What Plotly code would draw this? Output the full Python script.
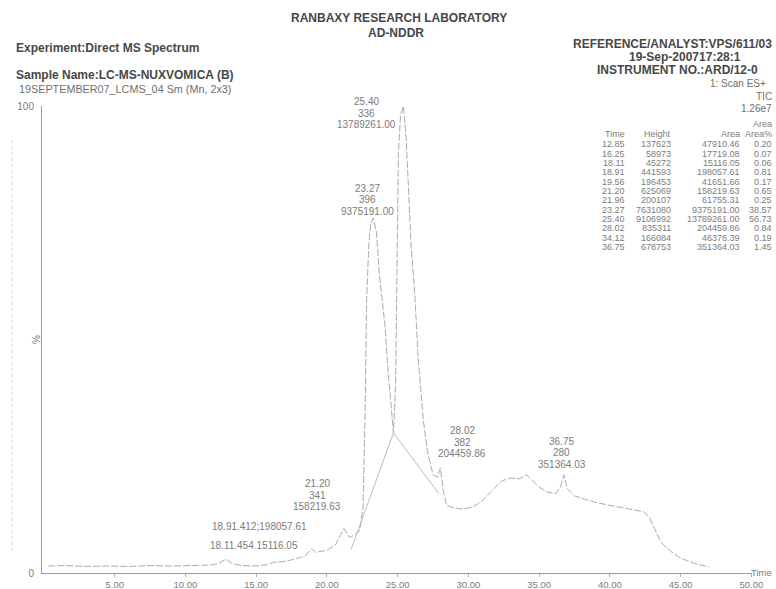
import plotly.graph_objects as go

# ---- chromatogram trace: retention time (min) vs relative intensity (%) ----
time_min = [0.3, 1.5, 3.0, 4.5, 6.0, 7.5, 9.0, 10.5, 11.8, 12.4,
            12.85, 13.3, 14.0, 15.0, 15.8, 16.25, 16.8, 17.5, 18.11, 18.5,
            18.91, 19.2, 19.56, 20.0, 20.6, 21.2, 21.6, 21.96, 22.3, 22.55,
            22.7, 22.8, 22.95, 23.1, 23.27, 23.5, 23.7, 23.9, 24.1, 24.3,
            24.5, 24.7, 24.85, 24.95, 25.05, 25.2, 25.4, 25.6, 25.75, 25.95,
            26.2, 26.45, 26.8, 27.1, 27.5, 27.8, 28.02, 28.2, 28.45, 29.0,
            29.6, 30.3, 31.0, 31.7, 32.4, 33.0, 33.6, 34.12, 34.5, 35.0,
            35.6, 36.2, 36.5, 36.75, 37.0, 37.5, 38.2, 38.9, 39.8, 40.8,
            41.6, 42.4, 42.8, 43.2, 43.6, 44.3, 45.0, 46.0, 47.0]
intensity_pct = [1.5, 1.6, 1.4, 1.5, 1.4, 1.6, 1.5, 1.6, 1.7, 2.1,
                 3.0, 2.0, 1.6, 1.5, 1.8, 2.3, 2.4, 2.8, 3.3, 3.8,
                 5.2, 4.4, 4.6, 4.9, 6.0, 9.5, 7.6, 8.2, 9.0, 14,
                 35, 58, 70, 75, 76, 73, 64, 58, 53, 44,
                 36, 30, 40, 70, 90, 98, 100, 93, 82, 70,
                 60, 46, 33, 26, 21, 20.5, 22.5, 18, 14.5, 13.9,
                 13.7, 14.1, 15.5, 17.8, 19.8, 20.3, 20.2, 21.0, 19.8, 18.4,
                 17.3, 17.0, 18.5, 21.0, 18.0, 16.5, 15.8, 15.2, 14.6, 14.0,
                 13.6, 13.1, 11.8, 9.0, 6.6, 4.6, 3.2, 2.0, 1.3]

# integration baseline drawn under the two main peaks
baseline_time = [21.7, 24.7, 27.9]
baseline_pct = [5.0, 30.0, 17.0]

# ---- peak list (report table) ----
table_time = ["12.85", "16.25", "18.11", "18.91", "19.56", "21.20",
              "21.96", "23.27", "25.40", "28.02", "34.12", "36.75"]
table_height = [137623, 58973, 45272, 441593, 196453, 625069,
                200107, 7631080, 9106992, 835311, 166084, 678753]
table_area = [47910.46, 17719.08, 15116.05, 198057.61, 41651.66, 158219.63,
              61755.31, 9375191.00, 13789261.00, 204459.86, 46376.39, 351364.03]

# ---- labels printed above the peaks ----
peak_rt = ["25.40", "23.27", "28.02", "36.75", "21.20"]
peak_scan = ["336", "396", "382", "280", "341"]
peak_area = ["13789261.00", "9375191.00", "204459.86", "351364.03", "158219.63"]
short_labels = ["18.91.412;198057.61", "18.11.454.15116.05"]

x_ticks = [5, 10, 15, 20, 25, 30, 35, 40, 45, 50]

# page geometry (pixels)
W, H = 776, 589
ML, MR, MT, MB = 42, 24, 106, 16
PW, PH = W - ML - MR, H - MT - MB

def px(x):
    return (x - ML) / PW

def py(y):
    return (H - MB - y) / PH

FONT = "Liberation Sans, Arial, sans-serif"
DARK = "#474747"
MID = "#6e6e6e"
LIGHT = "#7c7c7c"

fig = go.Figure()

fig.add_trace(go.Scatter(
    x=baseline_time, y=baseline_pct, mode="lines",
    line=dict(color="#bdbdbd", width=1), hoverinfo="skip", showlegend=False))

fig.add_trace(go.Scatter(
    x=time_min, y=intensity_pct, mode="lines",
    line=dict(color="#ababab", width=1, dash="7px,2px"),
    hoverinfo="skip", showlegend=False))

ann = []

def text(x, y, s, size, color=MID, bold=False, xanchor="left", yanchor="middle"):
    if bold:
        s = "<b>" + s + "</b>"
    ann.append(dict(x=px(x), y=py(y), xref="paper", yref="paper", text=s,
                    showarrow=False, xanchor=xanchor, yanchor=yanchor,
                    font=dict(family=FONT, size=size, color=color)))

# report header
text(399, 18, "RANBAXY RESEARCH LABORATORY", 12, DARK, True, "center")
text(396, 33, "AD-NDDR", 12, DARK, True, "center")
text(14, 48, "Experiment:Direct MS Spectrum", 12, DARK, True)
text(14, 75, "Sample Name:LC-MS-NUXVOMICA (B)", 12, DARK, True)
text(17, 89, "19SEPTEMBER07_LCMS_04 Sm (Mn, 2x3)", 10.8, MID)
text(774, 44, "REFERENCE/ANALYST:VPS/611/03", 12, DARK, True, "right")
text(627, 57, "19-Sep-200717:28:1", 12, DARK, True)
text(595, 70, "INSTRUMENT NO.:ARD/12-0", 12, DARK, True)
text(708, 83, "1: Scan ES+", 10, MID)
text(774, 96, "TIC", 10, MID, xanchor="right")
text(774, 108.5, "1.26e7", 10, MID, xanchor="right")

# peak table
total_area = sum(table_area)
row0, step = 144.5, 9.3
RIGHT = 774
text(RIGHT, 124.5, "Area", 9, LIGHT, xanchor="right")
for s, xr in [("Time", 627), ("Height", 673), ("Area", 742), ("Area%", RIGHT)]:
    text(xr, 134.3, s, 9, LIGHT, xanchor="right")
for i, t in enumerate(table_time):
    y = row0 + i * step
    text(627, y, t, 9, LIGHT, xanchor="right")
    text(673, y, str(table_height[i]), 9, LIGHT, xanchor="right")
    text(742, y, f"{table_area[i]:.2f}", 9, LIGHT, xanchor="right")
    text(RIGHT, y, f"{table_area[i] / total_area * 100:.2f}", 9, LIGHT, xanchor="right")

# peak labels (time / scan / area): anchor of the middle line, in data units
label_pos = [(22.76, 98.5), (22.9, 79.9), (29.55, 28.05), (36.6, 25.7), (19.3, 16.7)]
LINE = 11.3  # px between label lines
for (lx, ly), rt, sc, ar in zip(label_pos, peak_rt, peak_scan, peak_area):
    for s, shift in [(rt, LINE), (sc, 0), (ar, -LINE)]:
        ann.append(dict(x=lx, y=ly, xref="x", yref="y", yshift=shift,
                        text=s, showarrow=False,
                        xanchor="center", yanchor="middle",
                        font=dict(family=FONT, size=10, color=LIGHT)))
for (lx, ly), s in zip([(15.2, 9.9), (14.85, 5.8)], short_labels):
    ann.append(dict(x=lx, y=ly, xref="x", yref="y", text=s, showarrow=False,
                    xanchor="center", yanchor="middle",
                    font=dict(family=FONT, size=10, color=LIGHT)))

# axis captions
text(774, 572, "Time", 9.5, LIGHT, xanchor="right")
ann.append(dict(x=px(29), y=0.5, xref="paper", yref="paper", text="%",
                showarrow=False, textangle=-90,
                font=dict(family=FONT, size=10, color=LIGHT)))

fig.update_layout(
    width=W, height=H,
    margin=dict(l=ML, r=MR, t=MT, b=MB, autoexpand=False),
    paper_bgcolor="white", plot_bgcolor="white",
    annotations=ann,
    shapes=[dict(type="line", xref="paper", yref="paper",
                 x0=px(12), x1=px(12), y0=py(140), y1=py(553),
                 line=dict(color="#d6d6d6", width=1, dash="dot"))],
    xaxis=dict(range=[-0.14, 50.04], tickvals=x_ticks,
               ticktext=[f"{v:.2f}" for v in x_ticks],
               showgrid=False, zeroline=False, showline=True,
               linecolor="#9c9c9c", linewidth=1, ticks="outside", ticklen=3,
               tickcolor="#b0b0b0",
               tickfont=dict(family=FONT, size=9.5, color=LIGHT)),
    yaxis=dict(range=[0, 100], tickvals=[0, 100], ticktext=["0", "100"],
               showgrid=False, zeroline=False, showline=True,
               linecolor="#9c9c9c", linewidth=1, ticks="",
               ticklabelstandoff=5,
               tickfont=dict(family=FONT, size=10, color=LIGHT)),
)

fig.write_html("out.html")
